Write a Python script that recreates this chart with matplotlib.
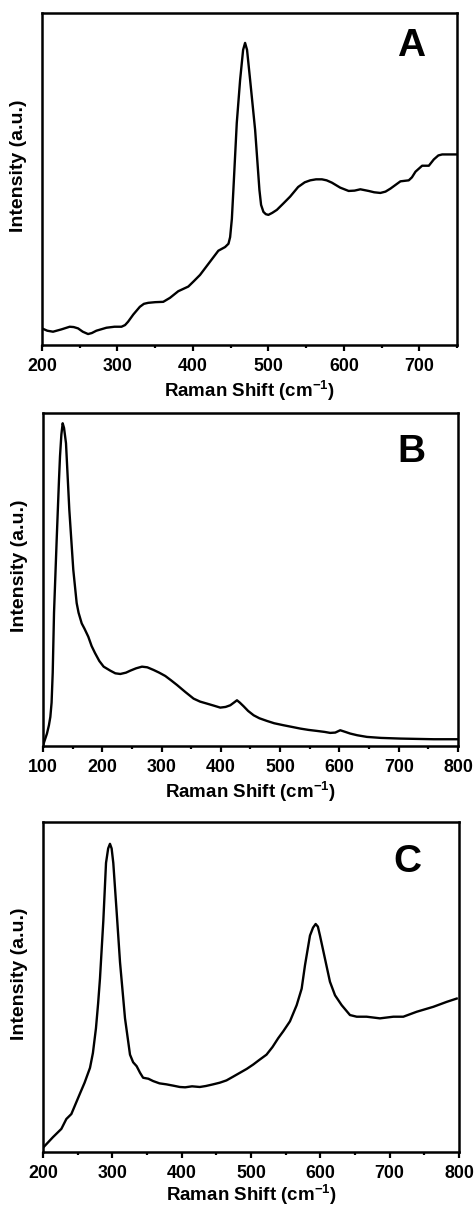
import matplotlib
matplotlib.use("Agg")
import matplotlib.pyplot as plt
from matplotlib.ticker import MultipleLocator

plt.rcParams["font.family"] = ["Liberation Sans", "DejaVu Sans"]
plt.rcParams["font.weight"] = "bold"
plt.rcParams["mathtext.fontset"] = "custom"
plt.rcParams["mathtext.bf"] = "Liberation Sans:bold"
plt.rcParams["mathtext.rm"] = "Liberation Sans:bold"

# Panel A: Raman shift (cm-1) vs intensity (arb. units)
shift_a = [200, 207, 214.6, 225.7, 236.7, 242, 247.8, 254, 261, 266, 272, 285.4, 296,
           305.3, 310, 314, 321, 329.6, 335, 340.7, 350, 360.6, 369.5, 380.5, 393.8,
           401, 409.3, 422.6, 433.6, 442.5, 447, 449.2, 451.5, 453.5, 458, 462.4,
           466.4, 469, 471.6, 475.7, 482.3, 488, 490.2, 493.3, 496.5, 499.9, 505,
           511.1, 520, 528.7, 539.3, 548, 555.3, 563, 570.8, 577, 584, 595, 606.2,
           614, 621.7, 632.7, 640, 648.2, 655, 661.5, 674.8, 685.8, 690, 694.7,
           703.5, 712.4, 719, 725, 730.1, 749.1]
int_a = [0.050, 0.043, 0.040, 0.047, 0.055, 0.054, 0.050, 0.040, 0.033, 0.036, 0.043,
         0.052, 0.055, 0.055, 0.060, 0.070, 0.092, 0.115, 0.124, 0.127, 0.129, 0.130,
         0.142, 0.162, 0.176, 0.192, 0.211, 0.251, 0.284, 0.295, 0.305, 0.325, 0.380,
         0.467, 0.669, 0.798, 0.889, 0.910, 0.889, 0.798, 0.648, 0.467, 0.422, 0.401,
         0.394, 0.392, 0.398, 0.407, 0.427, 0.447, 0.476, 0.490, 0.496, 0.499, 0.499,
         0.496, 0.489, 0.474, 0.464, 0.465, 0.469, 0.464, 0.460, 0.458, 0.462, 0.471,
         0.493, 0.496, 0.505, 0.522, 0.540, 0.540, 0.559, 0.571, 0.574, 0.574]

# Panel B
shift_b = [101.1, 106.7, 110, 112.4, 114.5, 116.4, 118.6, 123.1, 127, 128.7, 131,
           133.2, 135.5, 138.8, 144.4, 151.1, 156.8, 160, 165.3, 170, 176.4, 182,
           187.7, 195, 202.3, 213.5, 222, 230.4, 240, 247.3, 257, 267, 276, 286.6,
           296, 306.3, 316, 326, 340, 354, 365, 376.6, 388, 399, 408, 415.9, 422,
           427.2, 432, 438.4, 446, 455.3, 465, 477.7, 490, 505.8, 520, 534, 548, 562,
           575, 584.5, 593, 601.4, 610, 618.3, 630, 646.4, 670, 702.6, 730, 758.9, 799]
int_b = [0.007, 0.037, 0.062, 0.087, 0.130, 0.220, 0.400, 0.620, 0.800, 0.870, 0.935,
         0.969, 0.955, 0.909, 0.709, 0.529, 0.429, 0.400, 0.368, 0.352, 0.328, 0.300,
         0.279, 0.255, 0.238, 0.226, 0.218, 0.216, 0.220, 0.226, 0.233, 0.238, 0.236,
         0.228, 0.220, 0.210, 0.197, 0.183, 0.162, 0.142, 0.133, 0.127, 0.121, 0.115,
         0.117, 0.122, 0.130, 0.137, 0.130, 0.119, 0.105, 0.092, 0.083, 0.075, 0.068,
         0.062, 0.057, 0.052, 0.048, 0.045, 0.042, 0.039, 0.040, 0.047, 0.042, 0.037,
         0.032, 0.027, 0.024, 0.022, 0.021, 0.020, 0.020]

# Panel C
shift_c = [201, 214.4, 226.5, 233.7, 240.9, 252.9, 260, 267.8, 272, 276.4, 279.5,
           282.2, 287, 290.9, 294, 296.6, 299, 301.4, 306.3, 311.1, 318.3, 325.5,
           330, 335.1, 340, 344.4, 352, 358.8, 368, 378, 388, 397.3, 405, 415, 426.2,
           435, 445.4, 455, 464.7, 474, 484, 494, 503.2, 512, 522.4, 531, 539.3,
           546.6, 556.2, 565.9, 573.1, 577.9, 585.1, 589.5, 593.3, 596.5, 599.5,
           606.7, 613.9, 621.2, 630.8, 642.8, 652.5, 666.8, 686, 705.3, 719.7, 739,
           763, 782.3, 796.7]
int_c = [0.015, 0.045, 0.070, 0.100, 0.115, 0.175, 0.210, 0.255, 0.300, 0.375, 0.450,
         0.526, 0.700, 0.876, 0.920, 0.934, 0.920, 0.876, 0.726, 0.575, 0.405, 0.295,
         0.272, 0.260, 0.240, 0.225, 0.222, 0.215, 0.208, 0.205, 0.201, 0.197, 0.196,
         0.199, 0.197, 0.200, 0.205, 0.210, 0.217, 0.228, 0.240, 0.252, 0.265, 0.279,
         0.295, 0.318, 0.345, 0.366, 0.396, 0.445, 0.495, 0.566, 0.656, 0.680, 0.691,
         0.683, 0.656, 0.586, 0.516, 0.475, 0.445, 0.415, 0.410, 0.410, 0.405, 0.410,
         0.410, 0.425, 0.440, 0.455, 0.465]

panels = [
    (shift_a, int_a, (200, 750), "A", [0.0886, 0.7137, 0.876, 0.2755], (0.89, 0.90), 2),
    (shift_b, int_b, (100, 800), "B", [0.0907, 0.3810, 0.8755, 0.2763], (0.889, 0.883), 2),
    (shift_c, int_c, (200, 800), "C", [0.0907, 0.0440, 0.8776, 0.2738], (0.877, 0.88), 0),
]

fig = plt.figure(figsize=(4.74, 12.05), dpi=100)

for x, y, xlim, tag, rect, tagpos, lpad in panels:
    ax = fig.add_axes(rect)
    ax.plot(x, y, color="black", lw=1.7, solid_joinstyle="round")
    ax.set_xlim(*xlim)
    ax.set_ylim(0, 1)
    ax.xaxis.set_major_locator(MultipleLocator(100))
    ax.xaxis.set_minor_locator(MultipleLocator(50))
    ax.tick_params(axis="x", which="major", direction="out", length=4.5, width=1.6,
                   labelsize=12.8, pad=5)
    ax.tick_params(axis="x", which="minor", direction="out", length=2.2, width=1.6)
    ax.set_yticks([])
    for s in ax.spines.values():
        s.set_linewidth(1.8)
    for lbl in ax.get_xticklabels():
        lbl.set_fontweight("bold")
    ax.set_xlabel("Raman Shift (cm$^{\\mathbf{-1}}$)", fontsize=13.5, fontweight="bold",
                  labelpad=lpad)
    ax.set_ylabel("Intensity (a.u.)", fontsize=14, fontweight="bold")
    ax.yaxis.set_label_coords(-0.035, 0.54)
    ax.text(tagpos[0], tagpos[1], tag, transform=ax.transAxes, fontsize=28,
            fontweight="bold", ha="center", va="center")

fig.savefig("out.png", dpi=100)
